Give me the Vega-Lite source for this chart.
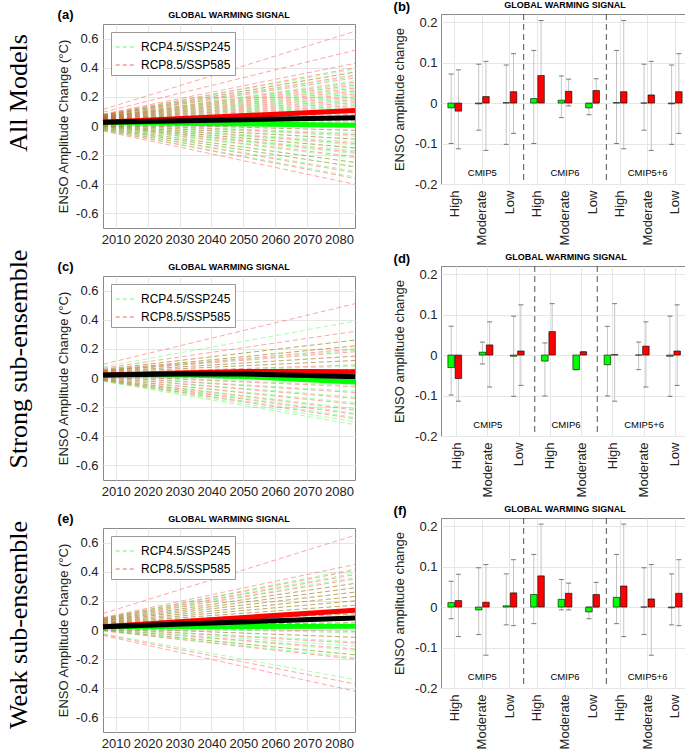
{
"$schema":"https://vega.github.io/schema/vega-lite/v6.json",
"padding":{"left":0,"top":0,"right":2,"bottom":0},
"background":"white",
"config":{
 "view":{"stroke":"#8a8a8a","strokeWidth":1},
 "axis":{"domain":false,"ticks":false,"labelOverlap":false,"labelSeparation":0,"gridColor":"#e6e6e6","labelFont":"Liberation Sans","titleFont":"Liberation Sans","labelFontSize":13,"titleFontSize":13,"titleFontWeight":"normal","labelColor":"#222","titleColor":"#222"},
 "title":{"font":"Liberation Sans","fontSize":13,"fontWeight":"bold","anchor":"start","frame":"bounds","color":"black"},
 "text":{"font":"Liberation Sans","color":"black"}
},
"datasets":{
 "fanA":[
  {"scenario":"85","year0":2006,"year1":2085,"value0":0.113,"value1":0.65},
  {"scenario":"45","year0":2006,"year1":2085,"value0":0.077,"value1":0.39},
  {"scenario":"85","year0":2006,"year1":2085,"value0":0.095,"value1":0.52},
  {"scenario":"45","year0":2006,"year1":2085,"value0":0.074,"value1":0.37},
  {"scenario":"85","year0":2006,"year1":2085,"value0":0.082,"value1":0.43},
  {"scenario":"45","year0":2006,"year1":2085,"value0":0.070,"value1":0.34},
  {"scenario":"85","year0":2006,"year1":2085,"value0":0.078,"value1":0.40},
  {"scenario":"45","year0":2006,"year1":2085,"value0":0.066,"value1":0.31},
  {"scenario":"85","year0":2006,"year1":2085,"value0":0.074,"value1":0.37},
  {"scenario":"45","year0":2006,"year1":2085,"value0":0.063,"value1":0.29},
  {"scenario":"85","year0":2006,"year1":2085,"value0":0.071,"value1":0.35},
  {"scenario":"45","year0":2006,"year1":2085,"value0":0.060,"value1":0.27},
  {"scenario":"85","year0":2006,"year1":2085,"value0":0.068,"value1":0.33},
  {"scenario":"45","year0":2006,"year1":2085,"value0":0.057,"value1":0.25},
  {"scenario":"85","year0":2006,"year1":2085,"value0":0.064,"value1":0.30},
  {"scenario":"45","year0":2006,"year1":2085,"value0":0.054,"value1":0.23},
  {"scenario":"85","year0":2006,"year1":2085,"value0":0.061,"value1":0.28},
  {"scenario":"45","year0":2006,"year1":2085,"value0":0.052,"value1":0.21},
  {"scenario":"85","year0":2006,"year1":2085,"value0":0.059,"value1":0.26},
  {"scenario":"45","year0":2006,"year1":2085,"value0":0.049,"value1":0.19},
  {"scenario":"85","year0":2006,"year1":2085,"value0":0.056,"value1":0.24},
  {"scenario":"45","year0":2006,"year1":2085,"value0":0.046,"value1":0.17},
  {"scenario":"85","year0":2006,"year1":2085,"value0":0.053,"value1":0.22},
  {"scenario":"45","year0":2006,"year1":2085,"value0":0.043,"value1":0.15},
  {"scenario":"85","year0":2006,"year1":2085,"value0":0.050,"value1":0.20},
  {"scenario":"45","year0":2006,"year1":2085,"value0":0.040,"value1":0.13},
  {"scenario":"85","year0":2006,"year1":2085,"value0":0.047,"value1":0.18},
  {"scenario":"45","year0":2006,"year1":2085,"value0":0.038,"value1":0.11},
  {"scenario":"85","year0":2006,"year1":2085,"value0":0.045,"value1":0.16},
  {"scenario":"45","year0":2006,"year1":2085,"value0":0.035,"value1":0.09},
  {"scenario":"85","year0":2006,"year1":2085,"value0":0.042,"value1":0.14},
  {"scenario":"45","year0":2006,"year1":2085,"value0":0.032,"value1":0.07},
  {"scenario":"85","year0":2006,"year1":2085,"value0":0.039,"value1":0.12},
  {"scenario":"45","year0":2006,"year1":2085,"value0":0.029,"value1":0.05},
  {"scenario":"85","year0":2006,"year1":2085,"value0":0.036,"value1":0.10},
  {"scenario":"45","year0":2006,"year1":2085,"value0":0.026,"value1":0.03},
  {"scenario":"85","year0":2006,"year1":2085,"value0":0.033,"value1":0.08},
  {"scenario":"45","year0":2006,"year1":2085,"value0":0.024,"value1":0.01},
  {"scenario":"85","year0":2006,"year1":2085,"value0":0.031,"value1":0.06},
  {"scenario":"45","year0":2006,"year1":2085,"value0":0.021,"value1":-0.01},
  {"scenario":"85","year0":2006,"year1":2085,"value0":0.028,"value1":0.04},
  {"scenario":"45","year0":2006,"year1":2085,"value0":0.018,"value1":-0.03},
  {"scenario":"85","year0":2006,"year1":2085,"value0":0.025,"value1":0.02},
  {"scenario":"45","year0":2006,"year1":2085,"value0":0.015,"value1":-0.05},
  {"scenario":"85","year0":2006,"year1":2085,"value0":0.022,"value1":0.00},
  {"scenario":"45","year0":2006,"year1":2085,"value0":0.012,"value1":-0.07},
  {"scenario":"85","year0":2006,"year1":2085,"value0":0.018,"value1":-0.03},
  {"scenario":"45","year0":2006,"year1":2085,"value0":0.010,"value1":-0.09},
  {"scenario":"85","year0":2006,"year1":2085,"value0":0.014,"value1":-0.06},
  {"scenario":"45","year0":2006,"year1":2085,"value0":0.007,"value1":-0.11},
  {"scenario":"85","year0":2006,"year1":2085,"value0":0.010,"value1":-0.09},
  {"scenario":"45","year0":2006,"year1":2085,"value0":0.004,"value1":-0.13},
  {"scenario":"85","year0":2006,"year1":2085,"value0":0.005,"value1":-0.12},
  {"scenario":"45","year0":2006,"year1":2085,"value0":0.001,"value1":-0.15},
  {"scenario":"85","year0":2006,"year1":2085,"value0":0.001,"value1":-0.15},
  {"scenario":"45","year0":2006,"year1":2085,"value0":-0.002,"value1":-0.17},
  {"scenario":"85","year0":2006,"year1":2085,"value0":-0.003,"value1":-0.18},
  {"scenario":"45","year0":2006,"year1":2085,"value0":-0.004,"value1":-0.19},
  {"scenario":"85","year0":2006,"year1":2085,"value0":-0.007,"value1":-0.21},
  {"scenario":"45","year0":2006,"year1":2085,"value0":-0.008,"value1":-0.22},
  {"scenario":"85","year0":2006,"year1":2085,"value0":-0.013,"value1":-0.25},
  {"scenario":"45","year0":2006,"year1":2085,"value0":-0.013,"value1":-0.25},
  {"scenario":"85","year0":2006,"year1":2085,"value0":-0.017,"value1":-0.28},
  {"scenario":"45","year0":2006,"year1":2085,"value0":-0.017,"value1":-0.28},
  {"scenario":"85","year0":2006,"year1":2085,"value0":-0.023,"value1":-0.32},
  {"scenario":"45","year0":2006,"year1":2085,"value0":-0.021,"value1":-0.31},
  {"scenario":"85","year0":2006,"year1":2085,"value0":-0.028,"value1":-0.36},
  {"scenario":"45","year0":2006,"year1":2085,"value0":-0.027,"value1":-0.35},
  {"scenario":"85","year0":2006,"year1":2085,"value0":-0.034,"value1":-0.40}
 ],
 "fanC":[
  {"scenario":"85","year0":2006,"year1":2085,"value0":0.094,"value1":0.51},
  {"scenario":"45","year0":2006,"year1":2085,"value0":0.077,"value1":0.39},
  {"scenario":"85","year0":2006,"year1":2085,"value0":0.067,"value1":0.32},
  {"scenario":"45","year0":2006,"year1":2085,"value0":0.059,"value1":0.26},
  {"scenario":"85","year0":2006,"year1":2085,"value0":0.059,"value1":0.26},
  {"scenario":"45","year0":2006,"year1":2085,"value0":0.053,"value1":0.22},
  {"scenario":"85","year0":2006,"year1":2085,"value0":0.053,"value1":0.22},
  {"scenario":"45","year0":2006,"year1":2085,"value0":0.049,"value1":0.19},
  {"scenario":"85","year0":2006,"year1":2085,"value0":0.050,"value1":0.20},
  {"scenario":"45","year0":2006,"year1":2085,"value0":0.043,"value1":0.15},
  {"scenario":"85","year0":2006,"year1":2085,"value0":0.047,"value1":0.18},
  {"scenario":"45","year0":2006,"year1":2085,"value0":0.039,"value1":0.12},
  {"scenario":"85","year0":2006,"year1":2085,"value0":0.043,"value1":0.15},
  {"scenario":"45","year0":2006,"year1":2085,"value0":0.033,"value1":0.08},
  {"scenario":"85","year0":2006,"year1":2085,"value0":0.039,"value1":0.12},
  {"scenario":"45","year0":2006,"year1":2085,"value0":0.029,"value1":0.05},
  {"scenario":"85","year0":2006,"year1":2085,"value0":0.035,"value1":0.09},
  {"scenario":"45","year0":2006,"year1":2085,"value0":0.025,"value1":0.02},
  {"scenario":"85","year0":2006,"year1":2085,"value0":0.031,"value1":0.06},
  {"scenario":"45","year0":2006,"year1":2085,"value0":0.019,"value1":-0.02},
  {"scenario":"85","year0":2006,"year1":2085,"value0":0.026,"value1":0.03},
  {"scenario":"45","year0":2006,"year1":2085,"value0":0.015,"value1":-0.05},
  {"scenario":"85","year0":2006,"year1":2085,"value0":0.019,"value1":-0.02},
  {"scenario":"45","year0":2006,"year1":2085,"value0":0.010,"value1":-0.09},
  {"scenario":"85","year0":2006,"year1":2085,"value0":0.014,"value1":-0.06},
  {"scenario":"45","year0":2006,"year1":2085,"value0":0.004,"value1":-0.13},
  {"scenario":"85","year0":2006,"year1":2085,"value0":0.008,"value1":-0.10},
  {"scenario":"45","year0":2006,"year1":2085,"value0":-0.002,"value1":-0.17},
  {"scenario":"85","year0":2006,"year1":2085,"value0":0.003,"value1":-0.14},
  {"scenario":"45","year0":2006,"year1":2085,"value0":-0.007,"value1":-0.21},
  {"scenario":"85","year0":2006,"year1":2085,"value0":-0.003,"value1":-0.18},
  {"scenario":"45","year0":2006,"year1":2085,"value0":-0.011,"value1":-0.24},
  {"scenario":"85","year0":2006,"year1":2085,"value0":-0.008,"value1":-0.22},
  {"scenario":"45","year0":2006,"year1":2085,"value0":-0.016,"value1":-0.27},
  {"scenario":"85","year0":2006,"year1":2085,"value0":-0.013,"value1":-0.25},
  {"scenario":"45","year0":2006,"year1":2085,"value0":-0.020,"value1":-0.30},
  {"scenario":"85","year0":2006,"year1":2085,"value0":-0.017,"value1":-0.28},
  {"scenario":"45","year0":2006,"year1":2085,"value0":-0.023,"value1":-0.32}
 ],
 "fanE":[
  {"scenario":"85","year0":2006,"year1":2085,"value0":0.113,"value1":0.65},
  {"scenario":"45","year0":2006,"year1":2085,"value0":0.081,"value1":0.42},
  {"scenario":"85","year0":2006,"year1":2085,"value0":0.085,"value1":0.45},
  {"scenario":"45","year0":2006,"year1":2085,"value0":0.077,"value1":0.39},
  {"scenario":"85","year0":2006,"year1":2085,"value0":0.080,"value1":0.41},
  {"scenario":"45","year0":2006,"year1":2085,"value0":0.073,"value1":0.36},
  {"scenario":"85","year0":2006,"year1":2085,"value0":0.075,"value1":0.38},
  {"scenario":"45","year0":2006,"year1":2085,"value0":0.067,"value1":0.32},
  {"scenario":"85","year0":2006,"year1":2085,"value0":0.071,"value1":0.35},
  {"scenario":"45","year0":2006,"year1":2085,"value0":0.063,"value1":0.29},
  {"scenario":"85","year0":2006,"year1":2085,"value0":0.067,"value1":0.32},
  {"scenario":"45","year0":2006,"year1":2085,"value0":0.059,"value1":0.26},
  {"scenario":"85","year0":2006,"year1":2085,"value0":0.063,"value1":0.29},
  {"scenario":"45","year0":2006,"year1":2085,"value0":0.054,"value1":0.23},
  {"scenario":"85","year0":2006,"year1":2085,"value0":0.059,"value1":0.26},
  {"scenario":"45","year0":2006,"year1":2085,"value0":0.050,"value1":0.20},
  {"scenario":"85","year0":2006,"year1":2085,"value0":0.054,"value1":0.23},
  {"scenario":"45","year0":2006,"year1":2085,"value0":0.046,"value1":0.17},
  {"scenario":"85","year0":2006,"year1":2085,"value0":0.050,"value1":0.20},
  {"scenario":"45","year0":2006,"year1":2085,"value0":0.042,"value1":0.14},
  {"scenario":"85","year0":2006,"year1":2085,"value0":0.046,"value1":0.17},
  {"scenario":"45","year0":2006,"year1":2085,"value0":0.038,"value1":0.11},
  {"scenario":"85","year0":2006,"year1":2085,"value0":0.042,"value1":0.14},
  {"scenario":"45","year0":2006,"year1":2085,"value0":0.033,"value1":0.08},
  {"scenario":"85","year0":2006,"year1":2085,"value0":0.038,"value1":0.11},
  {"scenario":"45","year0":2006,"year1":2085,"value0":0.029,"value1":0.05},
  {"scenario":"85","year0":2006,"year1":2085,"value0":0.033,"value1":0.08},
  {"scenario":"45","year0":2006,"year1":2085,"value0":0.026,"value1":0.03},
  {"scenario":"85","year0":2006,"year1":2085,"value0":0.029,"value1":0.05},
  {"scenario":"45","year0":2006,"year1":2085,"value0":0.024,"value1":0.01},
  {"scenario":"85","year0":2006,"year1":2085,"value0":0.025,"value1":0.02},
  {"scenario":"45","year0":2006,"year1":2085,"value0":0.019,"value1":-0.02},
  {"scenario":"85","year0":2006,"year1":2085,"value0":0.021,"value1":-0.01},
  {"scenario":"45","year0":2006,"year1":2085,"value0":0.015,"value1":-0.05},
  {"scenario":"85","year0":2006,"year1":2085,"value0":0.015,"value1":-0.05},
  {"scenario":"45","year0":2006,"year1":2085,"value0":0.011,"value1":-0.08},
  {"scenario":"85","year0":2006,"year1":2085,"value0":0.010,"value1":-0.09},
  {"scenario":"45","year0":2006,"year1":2085,"value0":0.007,"value1":-0.11},
  {"scenario":"85","year0":2006,"year1":2085,"value0":0.004,"value1":-0.13},
  {"scenario":"45","year0":2006,"year1":2085,"value0":0.003,"value1":-0.14},
  {"scenario":"85","year0":2006,"year1":2085,"value0":-0.001,"value1":-0.17},
  {"scenario":"45","year0":2006,"year1":2085,"value0":-0.002,"value1":-0.17},
  {"scenario":"85","year0":2006,"year1":2085,"value0":-0.006,"value1":-0.20},
  {"scenario":"45","year0":2006,"year1":2085,"value0":-0.004,"value1":-0.19},
  {"scenario":"85","year0":2006,"year1":2085,"value0":-0.030,"value1":-0.37},
  {"scenario":"45","year0":2006,"year1":2085,"value0":-0.025,"value1":-0.34},
  {"scenario":"85","year0":2006,"year1":2085,"value0":-0.037,"value1":-0.42}
 ],
 "meanA":[
  {"scenario":"45","year":2006,"value":0.024},{"scenario":"45","year":2085,"value":0.006},
  {"scenario":"85","year":2006,"value":0.026},{"scenario":"85","year":2085,"value":0.107},
  {"scenario":"all","year":2006,"value":0.025},{"scenario":"all","year":2085,"value":0.057}
 ],
 "meanC":[
  {"scenario":"45","year":2006,"value":0.020},{"scenario":"45","year":2030,"value":0.022},{"scenario":"45","year":2050,"value":0.011},{"scenario":"45","year":2070,"value":-0.012},{"scenario":"45","year":2085,"value":-0.028},
  {"scenario":"85","year":2006,"value":0.021},{"scenario":"85","year":2030,"value":0.035},{"scenario":"85","year":2050,"value":0.045},{"scenario":"85","year":2070,"value":0.045},{"scenario":"85","year":2085,"value":0.043},
  {"scenario":"all","year":2006,"value":0.020},{"scenario":"all","year":2030,"value":0.028},{"scenario":"all","year":2050,"value":0.027},{"scenario":"all","year":2070,"value":0.018},{"scenario":"all","year":2085,"value":0.009}
 ],
 "meanE":[
  {"scenario":"45","year":2006,"value":0.022},{"scenario":"45","year":2085,"value":0.025},
  {"scenario":"85","year":2006,"value":0.023},{"scenario":"85","year":2085,"value":0.135},
  {"scenario":"all","year":2006,"value":0.022},{"scenario":"all","year":2085,"value":0.083}
 ],
 "barsB":[
  {"cat":"CMIP5|High","scenario":"45","value":-0.012,"low":-0.100,"high":0.072},
  {"cat":"CMIP5|High","scenario":"85","value":-0.020,"low":-0.113,"high":0.082},
  {"cat":"CMIP5|Moderate","scenario":"45","value":-0.002,"low":-0.067,"high":0.096},
  {"cat":"CMIP5|Moderate","scenario":"85","value":0.016,"low":-0.117,"high":0.103},
  {"cat":"CMIP5|Low","scenario":"45","value":0.001,"low":-0.102,"high":0.094},
  {"cat":"CMIP5|Low","scenario":"85","value":0.028,"low":-0.075,"high":0.122},
  {"cat":"CMIP6|High","scenario":"45","value":0.011,"low":-0.100,"high":0.130},
  {"cat":"CMIP6|High","scenario":"85","value":0.068,"low":0.008,"high":0.204},
  {"cat":"CMIP6|Moderate","scenario":"45","value":0.007,"low":-0.036,"high":0.067},
  {"cat":"CMIP6|Moderate","scenario":"85","value":0.029,"low":-0.007,"high":0.059},
  {"cat":"CMIP6|Low","scenario":"45","value":-0.012,"low":-0.029,"high":-0.001},
  {"cat":"CMIP6|Low","scenario":"85","value":0.031,"low":0.000,"high":0.060},
  {"cat":"CMIP5+6|High","scenario":"45","value":0.001,"low":-0.100,"high":0.130},
  {"cat":"CMIP5+6|High","scenario":"85","value":0.028,"low":-0.113,"high":0.204},
  {"cat":"CMIP5+6|Moderate","scenario":"45","value":0.000,"low":-0.067,"high":0.096},
  {"cat":"CMIP5+6|Moderate","scenario":"85","value":0.020,"low":-0.117,"high":0.103},
  {"cat":"CMIP5+6|Low","scenario":"45","value":-0.002,"low":-0.102,"high":0.094},
  {"cat":"CMIP5+6|Low","scenario":"85","value":0.028,"low":-0.075,"high":0.122}
 ],
 "barsD":[
  {"cat":"CMIP5|High","scenario":"45","value":-0.031,"low":-0.099,"high":0.071},
  {"cat":"CMIP5|High","scenario":"85","value":-0.058,"low":-0.114,"high":-0.007},
  {"cat":"CMIP5|Moderate","scenario":"45","value":0.007,"low":-0.022,"high":0.032},
  {"cat":"CMIP5|Moderate","scenario":"85","value":0.025,"low":-0.079,"high":0.082},
  {"cat":"CMIP5|Low","scenario":"45","value":-0.003,"low":-0.102,"high":0.096},
  {"cat":"CMIP5|Low","scenario":"85","value":0.010,"low":-0.075,"high":0.124},
  {"cat":"CMIP6|High","scenario":"45","value":-0.015,"low":-0.101,"high":0.030},
  {"cat":"CMIP6|High","scenario":"85","value":0.058,"low":0.013,"high":0.127},
  {"cat":"CMIP6|Moderate","scenario":"45","value":-0.036,"low":-0.036,"high":-0.036},
  {"cat":"CMIP6|Moderate","scenario":"85","value":0.008,"low":0.008,"high":0.008},
  {"cat":"CMIP5+6|High","scenario":"45","value":-0.024,"low":-0.101,"high":0.071},
  {"cat":"CMIP5+6|High","scenario":"85","value":0.001,"low":-0.114,"high":0.127},
  {"cat":"CMIP5+6|Moderate","scenario":"45","value":0.000,"low":-0.036,"high":0.032},
  {"cat":"CMIP5+6|Moderate","scenario":"85","value":0.022,"low":-0.079,"high":0.082},
  {"cat":"CMIP5+6|Low","scenario":"45","value":-0.003,"low":-0.102,"high":0.096},
  {"cat":"CMIP5+6|Low","scenario":"85","value":0.010,"low":-0.075,"high":0.124}
 ],
 "barsF":[
  {"cat":"CMIP5|High","scenario":"45","value":0.011,"low":-0.029,"high":0.064},
  {"cat":"CMIP5|High","scenario":"85","value":0.016,"low":-0.073,"high":0.081},
  {"cat":"CMIP5|Moderate","scenario":"45","value":-0.007,"low":-0.068,"high":0.097},
  {"cat":"CMIP5|Moderate","scenario":"85","value":0.012,"low":-0.119,"high":0.105},
  {"cat":"CMIP5|Low","scenario":"45","value":0.003,"low":-0.044,"high":0.082},
  {"cat":"CMIP5|Low","scenario":"85","value":0.035,"low":-0.046,"high":0.117},
  {"cat":"CMIP6|High","scenario":"45","value":0.031,"low":-0.041,"high":0.130},
  {"cat":"CMIP6|High","scenario":"85","value":0.077,"low":0.007,"high":0.205},
  {"cat":"CMIP6|Moderate","scenario":"45","value":0.019,"low":-0.007,"high":0.068},
  {"cat":"CMIP6|Moderate","scenario":"85","value":0.034,"low":-0.007,"high":0.059},
  {"cat":"CMIP6|Low","scenario":"45","value":-0.012,"low":-0.029,"high":0.000},
  {"cat":"CMIP6|Low","scenario":"85","value":0.031,"low":0.000,"high":0.061},
  {"cat":"CMIP5+6|High","scenario":"45","value":0.024,"low":-0.041,"high":0.130},
  {"cat":"CMIP5+6|High","scenario":"85","value":0.052,"low":-0.073,"high":0.205},
  {"cat":"CMIP5+6|Moderate","scenario":"45","value":0.000,"low":-0.068,"high":0.097},
  {"cat":"CMIP5+6|Moderate","scenario":"85","value":0.020,"low":-0.119,"high":0.105},
  {"cat":"CMIP5+6|Low","scenario":"45","value":-0.002,"low":-0.044,"high":0.082},
  {"cat":"CMIP5+6|Low","scenario":"85","value":0.034,"low":-0.046,"high":0.117}
 ],
 "sep9":[{"cat":"CMIP5|Low"},{"cat":"CMIP6|Low"}],
 "sep8":[{"cat":"CMIP5|Low"},{"cat":"CMIP6|Moderate"}],
 "grp9":[{"cat":"CMIP5|Moderate","group":"CMIP5"},{"cat":"CMIP6|Moderate","group":"CMIP6"},{"cat":"CMIP5+6|Moderate","group":"CMIP5+6"}],
 "grp8a":[{"cat":"CMIP5|Moderate","group":"CMIP5"},{"cat":"CMIP5+6|Moderate","group":"CMIP5+6"}],
 "grp8b":[{"cat":"CMIP6|High","group":"CMIP6"}],
 "sig":[{"label":"GLOBAL WARMING SIGNAL"}]
},
"resolve":{"scale":{"color":"independent"},"legend":{"color":"independent"}},
"spacing":27,
"hconcat":[
 {"spacing":19,
  "resolve":{"scale":{"color":"independent"},"legend":{"color":"independent"}},
  "hconcat":[
   {"spacing":108,"bounds":"flush",
    "vconcat":[
     {"width":38,"height":158,"view":{"stroke":null},"data":{"values":[{"label":"All Models"}]},"mark":{"type":"text","angle":270,"font":"Liberation Serif","fontSize":26},"encoding":{"text":{"field":"label","type":"nominal"}}},
     {"width":38,"height":158,"view":{"stroke":null},"data":{"values":[{"label":"Strong sub-ensemble"}]},"mark":{"type":"text","angle":270,"font":"Liberation Serif","fontSize":26},"encoding":{"text":{"field":"label","type":"nominal"}}},
     {"width":38,"height":158,"view":{"stroke":null},"data":{"values":[{"label":"Weak sub-ensemble"}]},"mark":{"type":"text","angle":270,"font":"Liberation Serif","fontSize":26},"encoding":{"text":{"field":"label","type":"nominal"}}}
    ]},
   {"spacing":9,"bounds":"flush",
    "resolve":{"scale":{"color":"independent"},"legend":{"color":"independent"}},
    "vconcat":[
     {"width":1,"height":1,"view":{"stroke":null},"data":{"values":[]},"mark":"point","encoding":{}},
     {"spacing":48,"bounds":"flush",
      "resolve":{"scale":{"color":"independent"},"legend":{"color":"independent"}},
      "vconcat":[
       {"width":252,"height":204,
        "title":{"text":"(a)","offset":-11},
        "layer":[
         {"data":{"name":"fanA"},"mark":{"type":"rule","strokeDash":[5,3],"strokeWidth":1,"opacity":0.35},
          "encoding":{
           "x":{"field":"year0","type":"quantitative","scale":{"domain":[2006,2085],"nice":false,"zero":false},"axis":{"title":null,"values":[2010,2020,2030,2040,2050,2060,2070,2080],"tickCount":20,"format":"d","grid":true,"labelPadding":5,"labelOverlap":false}},
           "x2":{"field":"year1"},
           "y":{"field":"value0","type":"quantitative","scale":{"domain":[-0.7,0.7],"nice":false},"axis":{"title":"ENSO Amplitude Change (°C)","values":[-0.6,-0.4,-0.2,0,0.2,0.4,0.6],"tickCount":20,"format":".1~f","labelExpr":"replace(datum.label,'−','-')","grid":true,"labelPadding":5,"titlePadding":5,"labelOverlap":false}},
           "y2":{"field":"value1"},
           "color":{"field":"scenario","type":"nominal","scale":{"domain":["45","85"],"range":["#00ff00","#ff0000"]},"legend":{"title":null,"orient":"top-left","offset":8,"padding":4,"strokeColor":"#999","fillColor":"white","symbolType":"stroke","symbolSize":420,"symbolStrokeWidth":1,"symbolDash":[4,3],"symbolOpacity":0.6,"labelFontSize":12,"labelFont":"Liberation Sans","labelOffset":4,"rowPadding":1,"labelExpr":"datum.value == '45' ? 'RCP4.5/SSP245' : 'RCP8.5/SSP585'"}}}},
         {"data":{"name":"meanA"},"transform":[{"filter":"datum.scenario != 'all'"}],"mark":{"type":"line","strokeWidth":5},
          "encoding":{"x":{"field":"year","type":"quantitative","axis":{"title":null}},"y":{"field":"value","type":"quantitative","axis":{"title":"ENSO Amplitude Change (°C)"}},"color":{"field":"scenario","type":"nominal"}}},
         {"data":{"name":"meanA"},"transform":[{"filter":"datum.scenario == 'all'"}],"mark":{"type":"line","strokeWidth":5,"color":"black"},
          "encoding":{"x":{"field":"year","type":"quantitative","axis":{"title":null}},"y":{"field":"value","type":"quantitative","axis":{"title":"ENSO Amplitude Change (°C)"}}}},
         {"data":{"name":"sig"},"mark":{"type":"text","fontSize":9,"fontWeight":"bold","baseline":"bottom","dy":-4},
          "encoding":{"text":{"field":"label"},"y":{"datum":0.7}}}
        ]},
       {"width":252,"height":204,
        "title":{"text":"(c)","offset":-11},
        "layer":[
         {"data":{"name":"fanC"},"mark":{"type":"rule","strokeDash":[5,3],"strokeWidth":1,"opacity":0.35},
          "encoding":{
           "x":{"field":"year0","type":"quantitative","scale":{"domain":[2006,2085],"nice":false,"zero":false},"axis":{"title":null,"values":[2010,2020,2030,2040,2050,2060,2070,2080],"tickCount":20,"format":"d","grid":true,"labelPadding":5,"labelOverlap":false}},
           "x2":{"field":"year1"},
           "y":{"field":"value0","type":"quantitative","scale":{"domain":[-0.7,0.7],"nice":false},"axis":{"title":"ENSO Amplitude Change (°C)","values":[-0.6,-0.4,-0.2,0,0.2,0.4,0.6],"tickCount":20,"format":".1~f","labelExpr":"replace(datum.label,'−','-')","grid":true,"labelPadding":5,"titlePadding":5,"labelOverlap":false}},
           "y2":{"field":"value1"},
           "color":{"field":"scenario","type":"nominal","scale":{"domain":["45","85"],"range":["#00ff00","#ff0000"]},"legend":{"title":null,"orient":"top-left","offset":8,"padding":4,"strokeColor":"#999","fillColor":"white","symbolType":"stroke","symbolSize":420,"symbolStrokeWidth":1,"symbolDash":[4,3],"symbolOpacity":0.6,"labelFontSize":12,"labelFont":"Liberation Sans","labelOffset":4,"rowPadding":1,"labelExpr":"datum.value == '45' ? 'RCP4.5/SSP245' : 'RCP8.5/SSP585'"}}}},
         {"data":{"name":"meanC"},"transform":[{"filter":"datum.scenario != 'all'"}],"mark":{"type":"line","strokeWidth":5},
          "encoding":{"x":{"field":"year","type":"quantitative","axis":{"title":null}},"y":{"field":"value","type":"quantitative","axis":{"title":"ENSO Amplitude Change (°C)"}},"color":{"field":"scenario","type":"nominal"}}},
         {"data":{"name":"meanC"},"transform":[{"filter":"datum.scenario == 'all'"}],"mark":{"type":"line","strokeWidth":5,"color":"black"},
          "encoding":{"x":{"field":"year","type":"quantitative","axis":{"title":null}},"y":{"field":"value","type":"quantitative","axis":{"title":"ENSO Amplitude Change (°C)"}}}},
         {"data":{"name":"sig"},"mark":{"type":"text","fontSize":9,"fontWeight":"bold","baseline":"bottom","dy":-4},
          "encoding":{"text":{"field":"label"},"y":{"datum":0.7}}}
        ]},
       {"width":252,"height":204,
        "title":{"text":"(e)","offset":-11},
        "layer":[
         {"data":{"name":"fanE"},"mark":{"type":"rule","strokeDash":[5,3],"strokeWidth":1,"opacity":0.35},
          "encoding":{
           "x":{"field":"year0","type":"quantitative","scale":{"domain":[2006,2085],"nice":false,"zero":false},"axis":{"title":null,"values":[2010,2020,2030,2040,2050,2060,2070,2080],"tickCount":20,"format":"d","grid":true,"labelPadding":5,"labelOverlap":false}},
           "x2":{"field":"year1"},
           "y":{"field":"value0","type":"quantitative","scale":{"domain":[-0.7,0.7],"nice":false},"axis":{"title":"ENSO Amplitude Change (°C)","values":[-0.6,-0.4,-0.2,0,0.2,0.4,0.6],"tickCount":20,"format":".1~f","labelExpr":"replace(datum.label,'−','-')","grid":true,"labelPadding":5,"titlePadding":5,"labelOverlap":false}},
           "y2":{"field":"value1"},
           "color":{"field":"scenario","type":"nominal","scale":{"domain":["45","85"],"range":["#00ff00","#ff0000"]},"legend":{"title":null,"orient":"top-left","offset":8,"padding":4,"strokeColor":"#999","fillColor":"white","symbolType":"stroke","symbolSize":420,"symbolStrokeWidth":1,"symbolDash":[4,3],"symbolOpacity":0.6,"labelFontSize":12,"labelFont":"Liberation Sans","labelOffset":4,"rowPadding":1,"labelExpr":"datum.value == '45' ? 'RCP4.5/SSP245' : 'RCP8.5/SSP585'"}}}},
         {"data":{"name":"meanE"},"transform":[{"filter":"datum.scenario != 'all'"}],"mark":{"type":"line","strokeWidth":5},
          "encoding":{"x":{"field":"year","type":"quantitative","axis":{"title":null}},"y":{"field":"value","type":"quantitative","axis":{"title":"ENSO Amplitude Change (°C)"}},"color":{"field":"scenario","type":"nominal"}}},
         {"data":{"name":"meanE"},"transform":[{"filter":"datum.scenario == 'all'"}],"mark":{"type":"line","strokeWidth":5,"color":"black"},
          "encoding":{"x":{"field":"year","type":"quantitative","axis":{"title":null}},"y":{"field":"value","type":"quantitative","axis":{"title":"ENSO Amplitude Change (°C)"}}}},
         {"data":{"name":"sig"},"mark":{"type":"text","fontSize":9,"fontWeight":"bold","baseline":"bottom","dy":-4},
          "encoding":{"text":{"field":"label"},"y":{"datum":0.7}}}
        ]}
      ]}
    ]}
  ]},
 {"spacing":82,"bounds":"flush",
  "resolve":{"scale":{"color":"independent"},"legend":{"color":"independent"}},
  "vconcat":[
   {"width":248,"height":170,
    "title":{"text":"(b)","offset":-13},
    "layer":[
     {"data":{"name":"barsB"},"mark":{"type":"rule","color":"#c4c4c4","strokeWidth":1},
      "encoding":{
       "x":{"field":"cat","type":"nominal","sort":null,"scale":{"domain":["CMIP5|High","CMIP5|Moderate","CMIP5|Low","CMIP6|High","CMIP6|Moderate","CMIP6|Low","CMIP5+6|High","CMIP5+6|Moderate","CMIP5+6|Low"],"paddingInner":0,"paddingOuter":0},"axis":{"title":null,"labelAngle":270,"labelExpr":"split(datum.value,'|')[1]","grid":true,"bandPosition":0.5,"labelPadding":6}},
       "xOffset":{"field":"scenario","type":"nominal","scale":{"domain":["45","85"],"paddingInner":0.1,"paddingOuter":0.95}},
       "y":{"field":"low","type":"quantitative","scale":{"domain":[-0.2,0.22],"nice":false},"axis":{"title":"ENSO amplitude change","values":[-0.2,-0.1,0,0.1,0.2],"tickCount":20,"format":".1~f","labelExpr":"replace(datum.label,'−','-')","grid":true,"labelPadding":4,"titlePadding":8}},
       "y2":{"field":"high"}}},
     {"data":{"name":"barsB"},"mark":{"type":"bar","stroke":"black","strokeWidth":0.6},
      "encoding":{"x":{"field":"cat","type":"nominal","sort":null,"axis":{"title":null}},"xOffset":{"field":"scenario","type":"nominal"},
       "y":{"field":"value","type":"quantitative","axis":{"title":"ENSO amplitude change"}},
       "color":{"field":"scenario","type":"nominal","scale":{"domain":["45","85"],"range":["#00ff00","#ff0000"]},"legend":null}}},
     {"data":{"name":"barsB"},"mark":{"type":"tick","color":"#444","size":5,"thickness":1},
      "encoding":{"x":{"field":"cat","type":"nominal","sort":null,"axis":{"title":null}},"xOffset":{"field":"scenario","type":"nominal"},"y":{"field":"low","type":"quantitative","axis":{"title":"ENSO amplitude change"}}}},
     {"data":{"name":"barsB"},"mark":{"type":"tick","color":"#444","size":5,"thickness":1},
      "encoding":{"x":{"field":"cat","type":"nominal","sort":null,"axis":{"title":null}},"xOffset":{"field":"scenario","type":"nominal"},"y":{"field":"high","type":"quantitative","axis":{"title":"ENSO amplitude change"}}}},
     {"mark":{"type":"rule","color":"#666","strokeWidth":1},"encoding":{"y":{"datum":0}}},
     {"data":{"name":"sep9"},"mark":{"type":"rule","color":"#555","strokeDash":[6,4],"strokeWidth":1},
      "encoding":{"x":{"field":"cat","type":"nominal","sort":null,"bandPosition":1,"axis":{"title":null}}}},
     {"data":{"name":"grp9"},"mark":{"type":"text","fontSize":9.5},
      "encoding":{"x":{"field":"cat","type":"nominal","sort":null,"axis":{"title":null}},"y":{"datum":-0.172},"text":{"field":"group"}}},
     {"data":{"name":"sig"},"mark":{"type":"text","fontSize":9,"fontWeight":"bold","baseline":"bottom","dy":-4},
      "encoding":{"text":{"field":"label"},"y":{"datum":0.22}}}
    ]},
   {"width":250,"height":170,
    "title":{"text":"(d)","offset":-13},
    "layer":[
     {"data":{"name":"barsD"},"mark":{"type":"rule","color":"#c4c4c4","strokeWidth":1},
      "encoding":{
       "x":{"field":"cat","type":"nominal","sort":null,"scale":{"domain":["CMIP5|High","CMIP5|Moderate","CMIP5|Low","CMIP6|High","CMIP6|Moderate","CMIP5+6|High","CMIP5+6|Moderate","CMIP5+6|Low"],"paddingInner":0,"paddingOuter":0},"axis":{"title":null,"labelAngle":270,"labelExpr":"split(datum.value,'|')[1]","grid":true,"bandPosition":0.5,"labelPadding":6}},
       "xOffset":{"field":"scenario","type":"nominal","scale":{"domain":["45","85"],"paddingInner":0.1,"paddingOuter":1.05}},
       "y":{"field":"low","type":"quantitative","scale":{"domain":[-0.2,0.22],"nice":false},"axis":{"title":"ENSO amplitude change","values":[-0.2,-0.1,0,0.1,0.2],"tickCount":20,"format":".1~f","labelExpr":"replace(datum.label,'−','-')","grid":true,"labelPadding":4,"titlePadding":8}},
       "y2":{"field":"high"}}},
     {"data":{"name":"barsD"},"mark":{"type":"bar","stroke":"black","strokeWidth":0.6},
      "encoding":{"x":{"field":"cat","type":"nominal","sort":null,"axis":{"title":null}},"xOffset":{"field":"scenario","type":"nominal"},
       "y":{"field":"value","type":"quantitative","axis":{"title":"ENSO amplitude change"}},
       "color":{"field":"scenario","type":"nominal","scale":{"domain":["45","85"],"range":["#00ff00","#ff0000"]},"legend":null}}},
     {"data":{"name":"barsD"},"mark":{"type":"tick","color":"#444","size":5,"thickness":1},
      "encoding":{"x":{"field":"cat","type":"nominal","sort":null,"axis":{"title":null}},"xOffset":{"field":"scenario","type":"nominal"},"y":{"field":"low","type":"quantitative","axis":{"title":"ENSO amplitude change"}}}},
     {"data":{"name":"barsD"},"mark":{"type":"tick","color":"#444","size":5,"thickness":1},
      "encoding":{"x":{"field":"cat","type":"nominal","sort":null,"axis":{"title":null}},"xOffset":{"field":"scenario","type":"nominal"},"y":{"field":"high","type":"quantitative","axis":{"title":"ENSO amplitude change"}}}},
     {"mark":{"type":"rule","color":"#666","strokeWidth":1},"encoding":{"y":{"datum":0}}},
     {"data":{"name":"sep8"},"mark":{"type":"rule","color":"#555","strokeDash":[6,4],"strokeWidth":1},
      "encoding":{"x":{"field":"cat","type":"nominal","sort":null,"bandPosition":1,"axis":{"title":null}}}},
     {"data":{"name":"grp8a"},"mark":{"type":"text","fontSize":9.5},
      "encoding":{"x":{"field":"cat","type":"nominal","sort":null,"axis":{"title":null}},"y":{"datum":-0.172},"text":{"field":"group"}}},
     {"data":{"name":"grp8b"},"mark":{"type":"text","fontSize":9.5},
      "encoding":{"x":{"field":"cat","type":"nominal","sort":null,"bandPosition":1,"axis":{"title":null}},"y":{"datum":-0.172},"text":{"field":"group"}}},
     {"data":{"name":"sig"},"mark":{"type":"text","fontSize":9,"fontWeight":"bold","baseline":"bottom","dy":-4},
      "encoding":{"text":{"field":"label"},"y":{"datum":0.22}}}
    ]},
   {"width":248,"height":170,
    "title":{"text":"(f)","offset":-13},
    "layer":[
     {"data":{"name":"barsF"},"mark":{"type":"rule","color":"#c4c4c4","strokeWidth":1},
      "encoding":{
       "x":{"field":"cat","type":"nominal","sort":null,"scale":{"domain":["CMIP5|High","CMIP5|Moderate","CMIP5|Low","CMIP6|High","CMIP6|Moderate","CMIP6|Low","CMIP5+6|High","CMIP5+6|Moderate","CMIP5+6|Low"],"paddingInner":0,"paddingOuter":0},"axis":{"title":null,"labelAngle":270,"labelExpr":"split(datum.value,'|')[1]","grid":true,"bandPosition":0.5,"labelPadding":6}},
       "xOffset":{"field":"scenario","type":"nominal","scale":{"domain":["45","85"],"paddingInner":0.1,"paddingOuter":0.95}},
       "y":{"field":"low","type":"quantitative","scale":{"domain":[-0.2,0.22],"nice":false},"axis":{"title":"ENSO amplitude change","values":[-0.2,-0.1,0,0.1,0.2],"tickCount":20,"format":".1~f","labelExpr":"replace(datum.label,'−','-')","grid":true,"labelPadding":4,"titlePadding":8}},
       "y2":{"field":"high"}}},
     {"data":{"name":"barsF"},"mark":{"type":"bar","stroke":"black","strokeWidth":0.6},
      "encoding":{"x":{"field":"cat","type":"nominal","sort":null,"axis":{"title":null}},"xOffset":{"field":"scenario","type":"nominal"},
       "y":{"field":"value","type":"quantitative","axis":{"title":"ENSO amplitude change"}},
       "color":{"field":"scenario","type":"nominal","scale":{"domain":["45","85"],"range":["#00ff00","#ff0000"]},"legend":null}}},
     {"data":{"name":"barsF"},"mark":{"type":"tick","color":"#444","size":5,"thickness":1},
      "encoding":{"x":{"field":"cat","type":"nominal","sort":null,"axis":{"title":null}},"xOffset":{"field":"scenario","type":"nominal"},"y":{"field":"low","type":"quantitative","axis":{"title":"ENSO amplitude change"}}}},
     {"data":{"name":"barsF"},"mark":{"type":"tick","color":"#444","size":5,"thickness":1},
      "encoding":{"x":{"field":"cat","type":"nominal","sort":null,"axis":{"title":null}},"xOffset":{"field":"scenario","type":"nominal"},"y":{"field":"high","type":"quantitative","axis":{"title":"ENSO amplitude change"}}}},
     {"mark":{"type":"rule","color":"#666","strokeWidth":1},"encoding":{"y":{"datum":0}}},
     {"data":{"name":"sep9"},"mark":{"type":"rule","color":"#555","strokeDash":[6,4],"strokeWidth":1},
      "encoding":{"x":{"field":"cat","type":"nominal","sort":null,"bandPosition":1,"axis":{"title":null}}}},
     {"data":{"name":"grp9"},"mark":{"type":"text","fontSize":9.5},
      "encoding":{"x":{"field":"cat","type":"nominal","sort":null,"axis":{"title":null}},"y":{"datum":-0.172},"text":{"field":"group"}}},
     {"data":{"name":"sig"},"mark":{"type":"text","fontSize":9,"fontWeight":"bold","baseline":"bottom","dy":-4},
      "encoding":{"text":{"field":"label"},"y":{"datum":0.22}}}
    ]}
  ]}
]
}
